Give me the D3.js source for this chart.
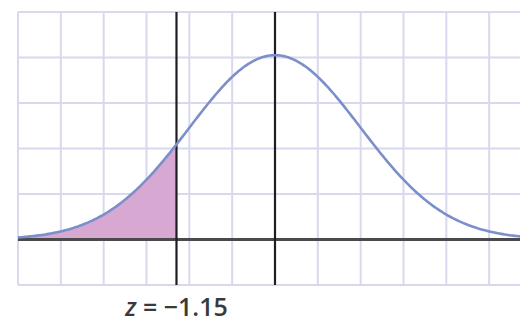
<!DOCTYPE html>
<html>
<head>
<meta charset="utf-8">
<script src="https://cdn.jsdelivr.net/npm/d3@7"></script>
<style>
  html, body { margin: 0; padding: 0; background: #fff; }
  svg { display: block; }
</style>
</head>
<body>
<div id="chart"></div>
<script>
// z value marked on the chart
const zValue = -1.15;
const zLabelVar = "z";
const zLabelRest = " = \u22121.15";

// grid lines, in standard deviations (every half sigma)
const gridX = [-3, -2.5, -2, -1.5, -1, -0.5, 0, 0.5, 1, 1.5, 2, 2.5, 3];
const gridY = [-1, 0, 1, 2, 3, 4, 5];

// sample points of the curve
const zSamples = d3.range(-3, 3.0001, 0.02);

const width = 520;
const height = 325;

const svg = d3.select("#chart")
  .append("svg")
  .attr("width", width)
  .attr("height", height);

// x in sigma units, y in cell units (one cell = half sigma)
const x = d3.scaleLinear().domain([-3, 3]).range([18, 532]);
const y = d3.scaleLinear().domain([-1, 5]).range([285, 12]);

const peakCells = 4.05; // curve peak height, in cells
const pdf = z => peakCells * Math.exp(-z * z / 2);

// grid
svg.append("g")
  .selectAll("line")
  .data(gridX)
  .join("line")
  .attr("x1", d => x(d))
  .attr("x2", d => x(d))
  .attr("y1", y(5))
  .attr("y2", y(-1))
  .attr("stroke", "#d8d8ee")
  .attr("stroke-width", 2);

svg.append("g")
  .selectAll("line")
  .data(gridY)
  .join("line")
  .attr("x1", x(-3))
  .attr("x2", x(3))
  .attr("y1", d => y(d))
  .attr("y2", d => y(d))
  .attr("stroke", "#d8d8ee")
  .attr("stroke-width", 2);

// shaded left tail
const tail = zSamples.filter(z => z <= zValue).concat([zValue]);
svg.append("path")
  .datum(tail)
  .attr("fill", "#d6a8d2")
  .attr("d", d3.area()
    .x(d => x(d))
    .y0(y(0))
    .y1(d => y(pdf(d))));

// x axis
svg.append("line")
  .attr("x1", x(-3))
  .attr("x2", x(3))
  .attr("y1", y(0))
  .attr("y2", y(0))
  .attr("stroke", "#4a4a4a")
  .attr("stroke-width", 3);

// vertical lines at mean and z
svg.append("g")
  .selectAll("line")
  .data([0, zValue])
  .join("line")
  .attr("x1", d => x(d))
  .attr("x2", d => x(d))
  .attr("y1", y(5))
  .attr("y2", y(-1))
  .attr("stroke", "#1e1e1e")
  .attr("stroke-width", 2.2);

// normal curve
svg.append("path")
  .datum(zSamples)
  .attr("fill", "none")
  .attr("stroke", "#7d8fca")
  .attr("stroke-width", 2.6)
  .attr("d", d3.line()
    .x(d => x(d))
    .y(d => y(pdf(d))));

// label
const label = svg.append("text")
  .attr("x", x(zValue))
  .attr("y", 316)
  .attr("text-anchor", "middle")
  .attr("font-family", "'Open Sans', sans-serif")
  .attr("font-size", 25)
  .attr("font-weight", 600)
  .attr("fill", "#3a3a3a");

label.append("tspan")
  .attr("font-style", "italic")
  .text(zLabelVar);

label.append("tspan")
  .text(zLabelRest);
</script>
</body>
</html>
